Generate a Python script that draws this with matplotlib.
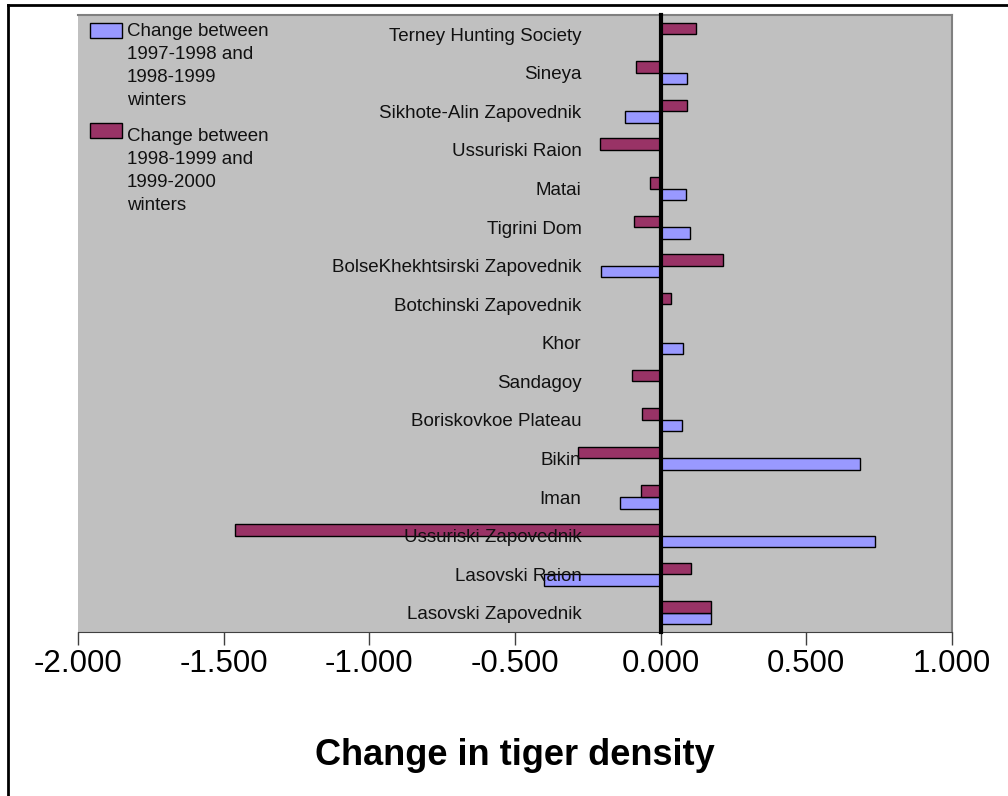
import numpy as np
import matplotlib
matplotlib.use('Agg')
import matplotlib.pyplot as plt
from matplotlib.lines import Line2D
from matplotlib.patches import Rectangle

plt.rcParams['font.family'] = ['Liberation Sans', 'DejaVu Sans']

# sites, listed bottom to top
sites = ['Lasovski Zapovednik', 'Lasovski Raion', 'Ussuriski Zapovednik',
         'Iman', 'Bikin', 'Boriskovkoe Plateau', 'Sandagoy', 'Khor',
         'Botchinski Zapovednik', 'BolseKhekhtsirski Zapovednik',
         'Tigrini Dom', 'Matai', 'Ussuriski Raion',
         'Sikhote-Alin Zapovednik', 'Sineya', 'Terney Hunting Society']

# change 1997-98 -> 1998-99 (nan = no value)
chg_98_99 = [0.172, -0.400, 0.734, -0.141, 0.685, 0.073, np.nan, 0.076,
             np.nan, -0.205, 0.099, 0.086, np.nan, -0.123, 0.090, np.nan]
# change 1998-99 -> 1999-2000
chg_99_00 = [0.172, 0.104, -1.461, -0.068, -0.285, -0.064, -0.100, np.nan,
             0.037, 0.213, -0.092, -0.037, -0.209, 0.090, -0.083, 0.122]

leg_labels = ['Change between\n1997-1998 and\n1998-1999\nwinters',
              'Change between\n1998-1999 and\n1999-2000\nwinters']
xticks = [-2.0, -1.5, -1.0, -0.5, 0.0, 0.5, 1.0]

c_blue = '#9999FF'
c_maroon = '#993366'

W, H = 1008, 796
fig = plt.figure(figsize=(W / 100, H / 100), dpi=100)
ax = fig.add_axes([78 / W, (H - 632) / H, (952 - 78) / W, (632 - 15) / H])
ax.set_facecolor('#C0C0C0')

y = np.arange(len(sites))
h = 0.3
ax.barh(y - h / 2, chg_98_99, height=h, color=c_blue, edgecolor='black',
        linewidth=1)
ax.barh(y + h / 2, chg_99_00, height=h, color=c_maroon, edgecolor='black',
        linewidth=1)

ax.set_xlim(-2.0, 1.0)
ax.set_ylim(-0.5, len(sites) - 0.5)

# category axis sits on zero
ax.spines['left'].set_position(('data', 0))
ax.spines['left'].set_linewidth(3)
ax.spines['left'].set_color('black')
ax.spines['left'].set_zorder(5)
for s in ['top', 'right']:
    ax.spines[s].set_color('#808080')
    ax.spines[s].set_linewidth(1.5)
ax.spines['bottom'].set_color('#404040')

ax.set_yticks(y)
ax.set_yticklabels(sites, fontsize=13.5, color='#111111')
ax.tick_params(axis='y', length=0, pad=57)

ax.set_xticks(xticks)
ax.set_xticklabels(['{:.3f}'.format(v) for v in xticks], fontsize=22.5)
ax.tick_params(axis='x', direction='out', length=9.5, width=1,
               color='#404040', pad=3)
ax.set_xlabel('Change in tiger density', fontsize=26, fontweight='bold',
              labelpad=42)

# legend block in the upper left corner
fig.add_artist(Rectangle((90 / W, (H - 38) / H), 32 / W, 15 / H,
                         facecolor=c_blue, edgecolor='black', lw=1))
fig.add_artist(Rectangle((90 / W, (H - 138) / H), 32 / W, 15 / H,
                         facecolor=c_maroon, edgecolor='black', lw=1))
fig.text(127 / W, (H - 23) / H, leg_labels[0], fontsize=13.5,
         va='top', ha='left', linespacing=1.45, color='#111111')
fig.text(127 / W, (H - 128) / H, leg_labels[1], fontsize=13.5,
         va='top', ha='left', linespacing=1.45, color='#111111')

# outer frame lines
fig.add_artist(Line2D([8 / W, 1], [(H - 4.5) / H, (H - 4.5) / H],
                      color='black', lw=2))
fig.add_artist(Line2D([8 / W, 8 / W], [0, (H - 4.5) / H],
                      color='black', lw=2))

fig.savefig('out.png', dpi=100)
